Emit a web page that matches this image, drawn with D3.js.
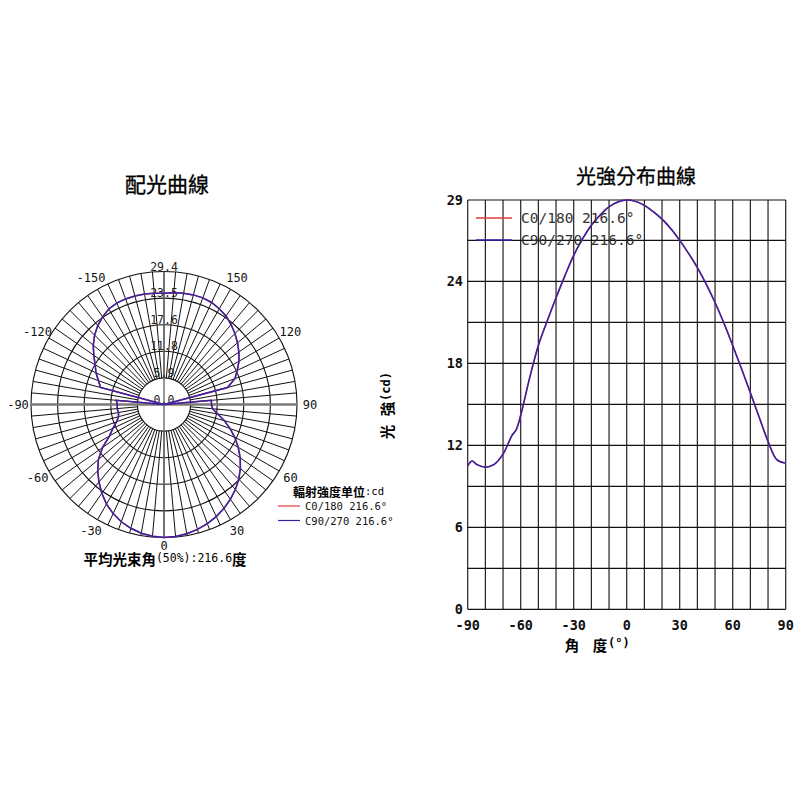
<!DOCTYPE html>
<html><head><meta charset="utf-8">
<script src="https://cdn.jsdelivr.net/npm/d3@7"></script>
<style>body{margin:0;background:#fff}svg{display:block}</style>
</head><body>
<svg id="c" width="805" height="805"></svg>
<script>
// ---------- DATA ----------
const polarAngles = [-180,-175,-170,-165,-160,-155,-150,-145,-140,-135,-130,-125,-120,-115,-110,-105,-100,-95,-90,-85,-80,-75,-70,-65,-60,-55,-50,-45,-40,-35,-30,-25,-20,-15,-10,-5,0,5,10,15,20,25,30,35,40,45,50,55,60,65,70,75,80,85,90,95,100,105,110,115,120,125,130,135,140,145,150,155,160,165,170,175,180];
const polarC90 = [25.05,25.15,25.25,25.3,25.3,25.2,24.85,24.1,23.2,22.1,20.8,19.3,17.9,16.9,15.7,14.8,0,10.8,10.5,10.6,10.4,10.6,11.35,12.7,14.2,16.9,19.3,21.1,22.8,24.4,25.9,27.1,28.1,28.85,29.45,29.8,29.95,29.85,29.55,29.1,28.55,27.85,27.0,26.05,25.0,23.8,22.45,20.95,19.3,17.6,15.85,14.05,12.3,10.95,10.7,10.7,0,14.8,17.0,18.2,19.5,20.6,21.6,22.6,23.5,24.35,24.9,25.35,25.55,25.55,25.45,25.25,25.05];
const polarC0 = polarC90.slice(); // identical curve, hidden under C90/270
const ringLabels = ["0.0","5.9","11.8","17.6","23.5","29.4"];
const angleLabels = [0,30,60,90,120,150,-150,-120,-90,-60,-30];

const cartAngles = [-90,-87.5,-85,-80,-75,-70,-65,-62.5,-60,-55,-50,-45,-40,-35,-30,-25,-20,-15,-10,-5,0,5,10,15,20,25,30,35,40,45,50,55,60,65,70,75,80,85,90];
const cartC90 = [10.5,10.85,10.6,10.4,10.6,11.35,12.7,13.15,14.2,16.9,19.3,21.1,22.8,24.4,25.9,27.1,28.1,28.85,29.45,29.8,29.95,29.85,29.55,29.1,28.55,27.85,27.0,26.05,25.0,23.8,22.45,20.95,19.3,17.6,15.85,14.05,12.3,10.95,10.7];
const cartC0 = cartC90.slice();
const xTicks = [-90,-60,-30,0,30,60,90];
const yTicks = [0,6,12,18,24];
const seriesNames = ["C0/180 216.6°","C90/270 216.6°"];
const seriesColors = ["#e03a3a","#3322aa"];

const CJK = "'Noto Sans CJK TC','Noto Sans CJK SC',sans-serif";
const MONO = "'DejaVu Sans Mono','Liberation Mono',monospace";

const svg = d3.select("#c");
svg.append("rect").attr("width",805).attr("height",805).attr("fill","#fff");

// ---------- POLAR ----------
const cx = 164, cy = 404.5, R = 133;
const rScale = d3.scaleLinear().domain([0, d3.max(polarC90)]).range([0, R]);
const pg = svg.append("g").attr("transform",`translate(${cx},${cy})`);
const hub = R/5;
pg.append("g").selectAll("line").data(d3.range(0,360,5)).join("line")
  .attr("x1",d=>hub*Math.sin(d*Math.PI/180)).attr("y1",d=>hub*Math.cos(d*Math.PI/180))
  .attr("x2",d=>R*Math.sin(d*Math.PI/180)).attr("y2",d=>R*Math.cos(d*Math.PI/180))
  .attr("stroke","#111").attr("stroke-width",1);
pg.append("g").selectAll("circle").data(d3.range(1,6)).join("circle")
  .attr("r",i=>R*i/5).attr("fill","none").attr("stroke","#111").attr("stroke-width",1.1);
pg.append("line").attr("x1",-R).attr("x2",R).attr("y1",0).attr("y2",0).attr("stroke","#7a7a7a").attr("stroke-width",2.4);
pg.append("line").attr("y1",-R).attr("y2",R).attr("x1",0).attr("x2",0).attr("stroke","#6a6a6a").attr("stroke-width",1.4);
pg.append("g").selectAll("text").data(ringLabels).join("text")
  .attr("x",0).attr("y",(d,i)=>-R*i/5-1).attr("text-anchor","middle")
  .attr("font-family",MONO).attr("font-size",11.5).attr("fill","#222").text(d=>d);
pg.append("g").selectAll("text").data(angleLabels).join("text")
  .attr("x",d=>146*Math.sin(d*Math.PI/180)).attr("y",d=>d===0?141:146*Math.cos(d*Math.PI/180))
  .attr("text-anchor","middle").attr("dominant-baseline","central")
  .attr("font-family",MONO).attr("font-size",12).attr("fill","#111").text(d=>d);
const radial = d3.lineRadial().angle(d=>(180-d[0])*Math.PI/180).radius(d=>rScale(d[1])).curve(d3.curveLinear);
[polarC0, polarC90].forEach((vals,k)=>{
  pg.append("path").attr("d",radial(polarAngles.map((a,i)=>[a,vals[i]])))
    .attr("fill","none").attr("stroke",seriesColors[k]).attr("stroke-width",1.5);
});
svg.append("text").attr("x",167).attr("y",183).attr("text-anchor","middle").attr("dominant-baseline","central")
  .attr("font-family",CJK).attr("font-size",21).attr("fill","#000").attr("stroke","#000").attr("stroke-width",0.3).text("配光曲線");
const bt = svg.append("text").attr("x",165).attr("y",558).attr("text-anchor","middle").attr("dominant-baseline","central").attr("fill","#000");
bt.append("tspan").attr("font-family",CJK).attr("font-weight","bold").attr("font-size",14.5).text("平均光束角");
bt.append("tspan").attr("font-family",MONO).attr("font-size",11.5).text("(50%):216.6");
bt.append("tspan").attr("font-family",CJK).attr("font-weight","bold").attr("font-size",14.5).text("度");
const lt = svg.append("text").attr("x",293).attr("y",491).attr("dominant-baseline","central").attr("fill","#000");
lt.append("tspan").attr("font-family",CJK).attr("font-weight","bold").attr("font-size",12).text("輻射強度单位");
lt.append("tspan").attr("font-family",MONO).attr("font-size",10.5).text(":cd");
seriesNames.forEach((n,k)=>{
  const y = 506 + k*14.5;
  svg.append("line").attr("x1",278).attr("x2",300).attr("y1",y).attr("y2",y).attr("stroke",seriesColors[k]).attr("stroke-width",1.2);
  svg.append("text").attr("x",305).attr("y",y).attr("dominant-baseline","central")
    .attr("font-family",MONO).attr("font-size",10.5).attr("fill","#111").text(n);
});

// ---------- CARTESIAN ----------
const yMax = d3.max(cartC90);
const x = d3.scaleLinear().domain([-90,90]).range([467.7,785.7]);
const y = d3.scaleLinear().domain([0,yMax]).range([609.3,200]);
const cg = svg.append("g");
cg.append("g").selectAll("line").data(d3.range(-90,91,10)).join("line")
  .attr("x1",d=>x(d)).attr("x2",d=>x(d)).attr("y1",y(0)).attr("y2",y(yMax))
  .attr("stroke","#222").attr("stroke-width",1.2);
cg.append("g").selectAll("line").data(d3.range(0,yMax,3).concat([yMax])).join("line")
  .attr("x1",x(-90)).attr("x2",x(90)).attr("y1",d=>y(d)).attr("y2",d=>y(d))
  .attr("stroke","#111").attr("stroke-width",1.2);
cg.append("g").selectAll("text").data(yTicks.concat([yMax])).join("text")
  .attr("x",463).attr("y",d=>y(d)).attr("text-anchor","end").attr("dominant-baseline","central")
  .attr("font-family",MONO).attr("font-weight","bold").attr("font-size",13.5).attr("fill","#111")
  .text(d=>Math.floor(d));
cg.append("g").selectAll("text").data(xTicks).join("text")
  .attr("x",d=>x(d)).attr("y",625).attr("text-anchor","middle").attr("dominant-baseline","central")
  .attr("font-family",MONO).attr("font-weight","bold").attr("font-size",13.5).attr("fill","#111")
  .text(d=>d);
const line = d3.line().x(d=>x(d[0])).y(d=>y(d[1])).curve(d3.curveCatmullRom.alpha(0.5));
[cartC0, cartC90].forEach((vals,k)=>{
  cg.append("path").attr("d",line(cartAngles.map((a,i)=>[a,vals[i]])))
    .attr("fill","none").attr("stroke",seriesColors[k]).attr("stroke-width",1.5);
});
seriesNames.forEach((n,k)=>{
  const yy = 218 + k*22;
  cg.append("line").attr("x1",476).attr("x2",512).attr("y1",yy).attr("y2",yy).attr("stroke",seriesColors[k]).attr("stroke-width",1.3);
  cg.append("text").attr("x",521).attr("y",yy).attr("dominant-baseline","central")
    .attr("font-family",MONO).attr("font-size",14.5).attr("fill","#333").text(n);
});
svg.append("text").attr("x",636).attr("y",175).attr("text-anchor","middle").attr("dominant-baseline","central")
  .attr("font-family",CJK).attr("font-size",20).attr("fill","#000").attr("stroke","#000").attr("stroke-width",0.3).text("光強分布曲線");
const xt = svg.append("g").attr("font-family",CJK).attr("font-weight","bold").attr("fill","#000");
xt.append("text").attr("x",572).attr("y",644).attr("text-anchor","middle").attr("dominant-baseline","central").attr("font-size",14.5).text("角");
xt.append("text").attr("x",600).attr("y",644).attr("text-anchor","middle").attr("dominant-baseline","central").attr("font-size",14.5).text("度");
xt.append("text").attr("x",608).attr("y",643).attr("dominant-baseline","central").attr("font-family",MONO).attr("font-size",12).text("(°)");
const yt = svg.append("g").attr("font-family",CJK).attr("font-weight","bold").attr("fill","#000");
yt.append("text").attr("transform","translate(386,432) rotate(-90)").attr("text-anchor","middle").attr("dominant-baseline","central").attr("font-size",14.5).text("光");
yt.append("text").attr("transform","translate(386,409) rotate(-90)").attr("text-anchor","middle").attr("dominant-baseline","central").attr("font-size",14.5).text("強");
yt.append("text").attr("transform","translate(386,401) rotate(-90)").attr("dominant-baseline","central").attr("font-family",MONO).attr("font-size",12).text("(cd)");
</script>
</body></html>
